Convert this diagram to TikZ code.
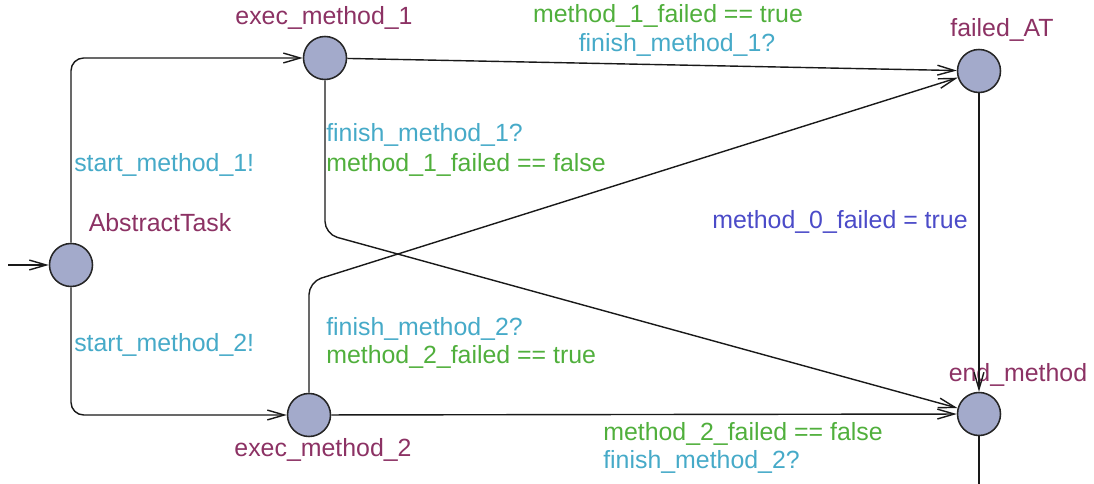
\documentclass[tikz,border=0pt]{standalone}
\usepackage{fontspec}
\setmainfont{Liberation Sans}
\usetikzlibrary{arrows.meta}
\definecolor{locfill}{RGB}{163,170,203}
\definecolor{locname}{RGB}{140,50,100}
\definecolor{synccol}{RGB}{70,170,200}
\definecolor{guardcol}{RGB}{80,175,60}
\definecolor{assigncol}{RGB}{75,75,200}

\begin{document}
\begin{tikzpicture}[x=0.025cm,y=-0.025cm,
    >={Straight Barb[length=12pt,width=7pt]},
    locstyle/.style={circle,draw=black!85,line width=1.1pt,fill=locfill,
      inner sep=0pt,minimum size=1.075cm},
    lbl/.style={inner sep=0pt,text height=12.5pt,text depth=0.5pt,
      font=\fontsize{17.7}{21}\selectfont},
    lblname/.style={lbl,text=locname},
    lblsync/.style={lbl,text=synccol},
    lblguard/.style={lbl,text=guardcol},
    lblassign/.style={lbl,text=assigncol},
    trans/.style={draw=black!90,line width=1pt,rounded corners=9pt}]
  \useasboundingbox (0,0) rectangle (1094,484);

  \node[locstyle] (abstracttask) at (71,265) {};
  \node[locstyle] (exec1) at (325,58) {};
  \node[locstyle] (exec2) at (309,415) {};
  \node[locstyle] (failedAT) at (979,71) {};
  \node[locstyle] (endmethod) at (979,414) {};

  \node[lblname] (abstracttaskname) at (160,223) {AbstractTask};
  \node[lblname] (exec1name) at (324,16) {exec\_method\_1};
  \node[lblname] (exec2name) at (323,448) {exec\_method\_2};
  \node[lblname] (failedATname) at (1002,28) {failed\_AT};
  \node[lblname] (endmethodname) at (1018,373) {end\_method};

  \coordinate (init) at (8,265);
  \coordinate (bend1) at (325,234);
  \coordinate (bend2) at (309,282);
  \coordinate (exit) at (979,484);

  \draw[trans,->] (init) -- (abstracttask);
  \draw[trans,->] (abstracttask) |- (exec1);
  \draw[trans,->] (abstracttask) |- (exec2);
  \draw[trans,->] (exec1) -- (failedAT);
  \draw[trans,->] (exec1) -- (bend1) -- (endmethod);
  \draw[trans,->] (exec2) -- (bend2) -- (failedAT);
  \draw[trans,->] (exec2) -- (endmethod);
  \draw[trans,->] (failedAT) -- (endmethod);
  \draw[trans] (endmethod) -- (exit);

  \node[lblsync,anchor=west] (s1) at (74,163) {start\_method\_1!};
  \node[lblsync,anchor=west] (s2) at (74,343) {start\_method\_2!};

  \node[lblguard] (g1t) at (668,14) {method\_1\_failed == true};
  \node[lblsync] (f1t) at (677,43) {finish\_method\_1?};

  \node[lblsync,anchor=west] (f1f) at (326,133) {finish\_method\_1?};
  \node[lblguard,anchor=west] (g1f) at (326,163) {method\_1\_failed == false};

  \node[lblsync,anchor=west] (f2t) at (326,327) {finish\_method\_2?};
  \node[lblguard,anchor=west] (g2t) at (326,355) {method\_2\_failed == true};

  \node[lblassign] (a0) at (840,220) {method\_0\_failed = true};

  \node[lblguard,anchor=west] (g2f) at (603,432) {method\_2\_failed == false};
  \node[lblsync,anchor=west] (f2f) at (603,460) {finish\_method\_2?};
\end{tikzpicture}
\end{document}
